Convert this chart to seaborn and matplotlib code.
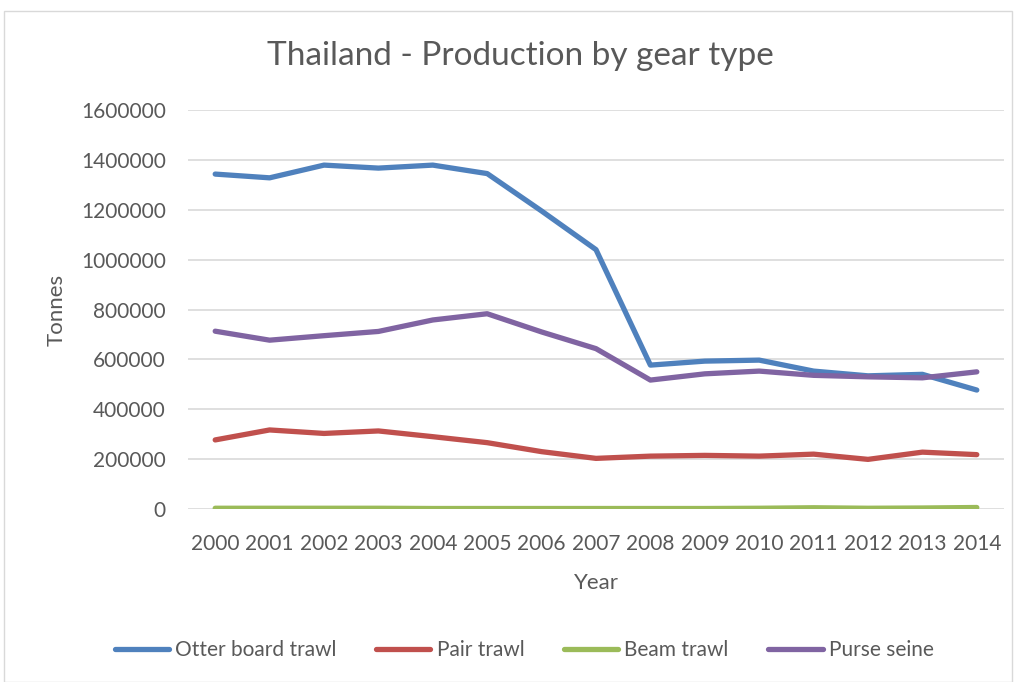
import numpy as np
import pandas as pd
import matplotlib.pyplot as plt
import seaborn as sns
from matplotlib.patches import Rectangle

# data
years = [str(y) for y in range(2000, 2015)]
otter_board = [1343000, 1328000, 1379000, 1367000, 1379000, 1345000, 1195000, 1040000,
               577000, 593000, 597000, 553000, 534000, 540000, 477000]
pair_trawl = [277000, 317000, 303000, 313000, 290000, 266000, 230000, 203000,
              212000, 215000, 212000, 220000, 199000, 228000, 218000]
beam_trawl = [3000, 3000, 3000, 3000, 2000, 2000, 2000, 2000,
              2000, 2000, 3000, 5000, 3000, 4000, 6000]
purse_seine = [713000, 677000, 695000, 712000, 758000, 783000, 710000, 643000,
               517000, 542000, 553000, 536000, 530000, 526000, 550000]

series = {
    "Otter board trawl": otter_board,
    "Pair trawl": pair_trawl,
    "Beam trawl": beam_trawl,
    "Purse seine": purse_seine,
}
colors = ["#4F81BD", "#C0504D", "#9BBB59", "#8064A2"]

df = pd.DataFrame(series, index=years).reset_index(names="Year")
df = df.melt(id_vars="Year", var_name="Gear", value_name="Tonnes")

sns.set_style("white")
plt.rcParams["font.family"] = ["Lato", "DejaVu Sans"]
text_col = "#595959"

fig = plt.figure(figsize=(10.18, 6.82), dpi=100)
ax = fig.add_axes([188 / 1018, 1 - 509 / 682, (1004 - 188) / 1018, (509 - 110) / 682])

sns.lineplot(data=df, x="Year", y="Tonnes", hue="Gear", palette=colors,
             linewidth=3.8, ax=ax, sort=False)

ax.set_ylim(0, 1600000)
ax.set_yticks(np.arange(0, 1600001, 200000))
ax.set_yticklabels([str(v) for v in range(0, 1600001, 200000)])
ax.set_xlim(-0.5, len(years) - 0.5)
ax.yaxis.grid(True, color="#D9D9D9", linewidth=1.2)
ax.set_axisbelow(True)
for s in ax.spines.values():
    s.set_visible(False)
ax.tick_params(axis="both", length=0, labelsize=15, colors=text_col)
ax.tick_params(axis="x", pad=18)
ax.tick_params(axis="y", pad=16)

ax.set_xlabel("Year", fontsize=16, color=text_col, labelpad=14)
ax.set_ylabel("Tonnes", fontsize=16, color=text_col, labelpad=10)

fig.text(0.511, 1 - 56 / 682, "Thailand - Production by gear type",
         ha="center", va="center", fontsize=24, color=text_col)

ax.legend(loc="center", bbox_to_anchor=(0.515, 1 - 650 / 682), bbox_transform=fig.transFigure,
          ncol=4, frameon=False, fontsize=15, handlelength=2.6, handletextpad=0.3,
          columnspacing=1.9, labelcolor=text_col)

fig.patches.append(Rectangle((4 / 1018, 0), 1008 / 1018, 1 - 11 / 682, transform=fig.transFigure,
                             fill=False, edgecolor="#D9D9D9", linewidth=1))

fig.savefig("out.png", dpi=100)
